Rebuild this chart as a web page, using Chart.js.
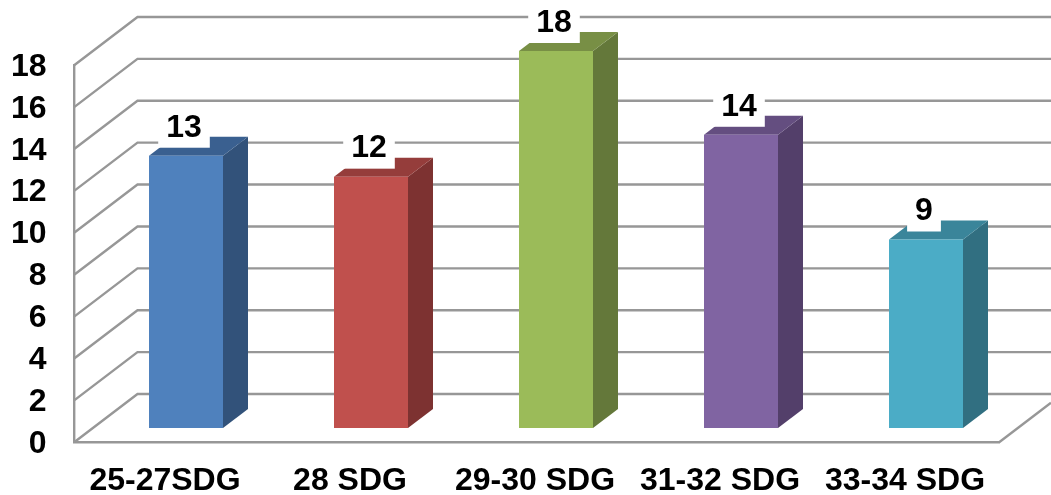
<!DOCTYPE html>
<html>
<head>
<meta charset="utf-8">
<style>
  html, body { margin: 0; padding: 0; background: #fff; }
  canvas { display: block; }
</style>
<script src="https://cdn.jsdelivr.net/npm/chart.js@4"></script>
</head>
<body>
<canvas id="sdg" width="1051" height="495"></canvas>
<script>
const categories = ['25-27SDG', '28 SDG', '29-30 SDG', '31-32 SDG', '33-34 SDG'];
const counts = [13, 12, 18, 14, 9];
const frontColors = ['#4f81bd', '#c0504d', '#9bbb59', '#8064a2', '#4bacc6'];
const sideColors = ['#32527a', '#7d3231', '#64783a', '#533f6a', '#316f81'];
const topColors = ['#3a6090', '#953d3b', '#788f45', '#644e80', '#3a859a'];

const FONT = '"Liberation Sans", Arial, sans-serif';
const GRID = '#979797';
// depth of the back wall and of the bars
const wall = {dx: 63, dy: -48};
const depth = {dx: 25, dy: -19};
const plane = {dx: 19, dy: -14};

function poly(ctx, pts, fill) {
    ctx.beginPath();
    pts.forEach((p, i) => i ? ctx.lineTo(p[0], p[1]) : ctx.moveTo(p[0], p[1]));
    ctx.closePath();
    ctx.fillStyle = fill;
    ctx.fill();
}

// slanted side wall, floor and back wall lines
const wallGrid = {
    id: 'wallGrid',
    beforeDatasetsDraw(chart) {
        const {ctx, scales: {y}, chartArea: a} = chart;
        const W = chart.width;
        ctx.save();
        ctx.strokeStyle = GRID;
        ctx.lineWidth = 2.4;
        y.ticks.forEach(t => {
            const py = y.getPixelForValue(t.value);
            ctx.beginPath();
            ctx.moveTo(a.left, py);
            ctx.lineTo(a.left + wall.dx, py + wall.dy);
            ctx.lineTo(W, py + wall.dy);
            ctx.stroke();
        });
        ctx.beginPath();
        ctx.moveTo(a.right, a.bottom);
        ctx.lineTo(W, a.bottom + (W - a.right) * wall.dy / wall.dx);
        ctx.stroke();
        ctx.restore();
    }
};

// side and top faces go under the bars, the bars sit forward of the axis plane
const bars3d = {
    id: 'bars3d',
    beforeDatasetDraw(chart, args) {
        const {ctx} = chart;
        const bars = args.meta.data;
        bars.forEach((b, i) => {
            const l = b.x - b.width / 2 + plane.dx;
            const r = b.x + b.width / 2 + plane.dx;
            const t = b.y + plane.dy;
            const bot = b.base + plane.dy;
            poly(ctx, [[r, t], [r + depth.dx, t + depth.dy], [r + depth.dx, bot + depth.dy], [r, bot]], sideColors[i]);
            poly(ctx, [[l, t], [l + depth.dx, t + depth.dy], [r + depth.dx, t + depth.dy], [r, t]], topColors[i]);
        });
        ctx.save();
        ctx.translate(plane.dx, plane.dy);
    },
    afterDatasetDraw(chart) {
        chart.ctx.restore();
    }
};

// value labels on their white boxes
const valueBoxes = {
    id: 'valueBoxes',
    afterDatasetsDraw(chart) {
        const {ctx} = chart;
        ctx.save();
        ctx.font = 'bold 32px ' + FONT;
        ctx.textAlign = 'center';
        ctx.textBaseline = 'middle';
        chart.getDatasetMeta(0).data.forEach((b, i) => {
            const label = String(counts[i]);
            const cx = b.x + plane.dx - 2;
            const top = b.y + plane.dy;
            const w = ctx.measureText(label).width + 16;
            ctx.fillStyle = '#fff';
            ctx.fillRect(cx - w / 2, top - 53, w, 45);
            ctx.fillStyle = '#000';
            ctx.fillText(label, cx, top - 28);
        });
        ctx.restore();
    }
};

new Chart(document.getElementById('sdg'), {
    type: 'bar',
    data: {
        labels: categories,
        datasets: [{
            data: counts,
            backgroundColor: frontColors,
            categoryPercentage: 1,
            barPercentage: 0.4,
            clip: false
        }]
    },
    options: {
        responsive: false,
        animation: false,
        layout: {
            autoPadding: false,
            padding: {top: 65, right: 51.5, bottom: 0, left: 0}
        },
        plugins: {
            legend: {display: false},
            tooltip: {enabled: false}
        },
        scales: {
            x: {
                afterFit: s => { s.height = 53; },
                grid: {display: false, drawTicks: false},
                border: {color: GRID, width: 2.4},
                ticks: {
                    color: '#000',
                    padding: 20,
                    maxRotation: 0,
                    autoSkip: false,
                    labelOffset: -2,
                    font: {family: FONT, size: 32, weight: 'bold'}
                }
            },
            y: {
                min: 0,
                max: 18,
                afterFit: s => { s.width = 74.5; },
                grid: {display: false, drawTicks: false},
                border: {color: GRID, width: 2.4},
                ticks: {
                    stepSize: 2,
                    color: '#000',
                    padding: 28,
                    labelOffset: 2,
                    font: {family: FONT, size: 32, weight: 'bold'}
                }
            }
        }
    },
    plugins: [wallGrid, bars3d, valueBoxes]
});
</script>
</body>
</html>
